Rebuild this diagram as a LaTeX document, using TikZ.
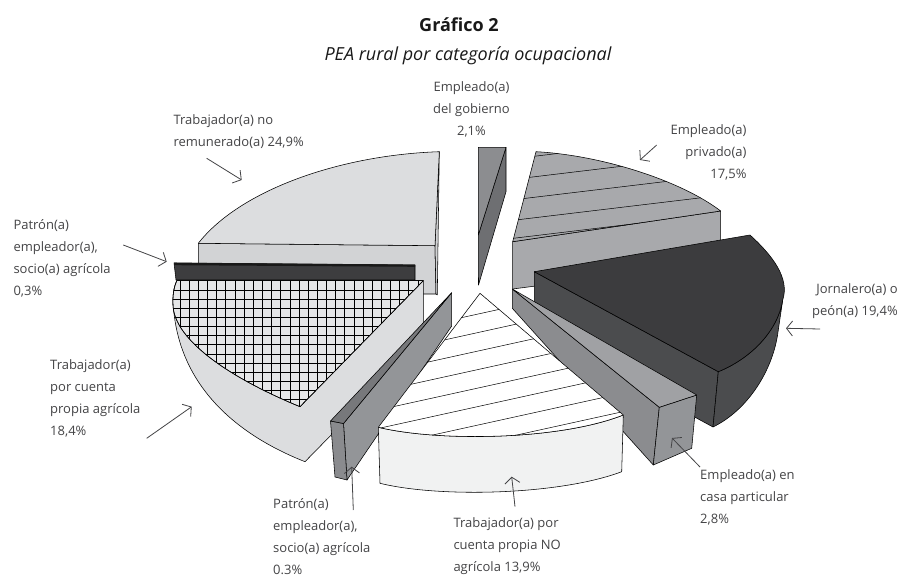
\documentclass[tikz,border=0pt]{standalone}
\usepackage{fontspec}
\setmainfont{Open Sans}
\usetikzlibrary{arrows.meta}
\definecolor{nrTop}{HTML}{DCDDDF}
\definecolor{nrSide}{HTML}{D2D3D5}
\definecolor{pvFill}{HTML}{A8A9AC}
\definecolor{gvL}{HTML}{8C8D90}
\definecolor{gvR}{HTML}{6E6F72}
\definecolor{jnTop}{HTML}{3C3C3E}
\definecolor{jnSide}{HTML}{4B4C4E}
\definecolor{csTop}{HTML}{A0A1A4}
\definecolor{csSide}{HTML}{8B8C8F}
\definecolor{csEnd}{HTML}{939598}
\definecolor{tbFill}{HTML}{3D3D3F}
\definecolor{agTop}{HTML}{E6E7E8}
\definecolor{agSide}{HTML}{DCDDDF}
\definecolor{bbTop}{HTML}{77787B}
\definecolor{bbFront}{HTML}{939598}
\definecolor{bbEnd}{HTML}{8A8B8E}
\definecolor{naFront}{HTML}{F1F2F2}
\definecolor{txt}{HTML}{444446}
\begin{document}
\begin{tikzpicture}[x=1pt,y=-1pt,
  edge/.style={draw=black,line width=0.55pt,line join=round},
  hatch/.style={draw=black,line width=0.5pt},
  gridline/.style={draw=black,line width=0.6pt},
  lbl/.style={font=\fontsize{13}{22}\selectfont,text=txt,inner sep=0pt},
  pointer/.style={draw=txt,line width=0.8pt,-{Straight Barb[length=6pt,width=15pt,line width=0.8pt]}}]
\fill[white] (0,0) rectangle (919,578);
\useasboundingbox (0,0) rectangle (919,578);

% titles
\node[font=\fontsize{18}{20}\selectfont\bfseries,text=black!90,inner sep=0pt] (title) at (459,25) {Gráfico 2};
\node[font=\fontsize{18}{20}\selectfont\itshape,text=black!90,inner sep=0pt] (subtitle) at (468,56) {PEA rural por categoría ocupacional};

% Trabajador(a) no remunerado(a)
\path[edge,fill=nrSide] (198.3,243.3) -- (435,245.7) -- (436,294) -- (198.3,294) -- cycle;
\path[edge,fill=nrSide] (439.3,151.7) -- (437.3,295) -- (436,294) -- (435,245.7) -- cycle;
\path[edge,fill=nrTop] (439.3,151.7) .. controls (340,155) and (240,190) .. (198.3,243.3) -- (435,245.7) -- cycle;

% Empleado(a) privado(a)
\path[edge,fill=pvFill] (512.7,241.7) -- (720.7,211) -- (720.7,262) -- (512.7,289) -- cycle;
\path[edge,fill=pvFill] (536,151.7) .. controls (600,155) and (680,180) .. (720.7,211) -- (512.7,241.7) -- cycle;
\begin{scope}
\clip (536,151.7) .. controls (600,155) and (680,180) .. (720.7,211) -- (512.7,241.7) -- cycle;
\foreach \c in {158,178.5,199,219.5,237.5}
  \draw[hatch] (500,{\c+0.12*20}) -- (730,{\c-0.12*210});
\end{scope}

% Empleado(a) del gobierno
\path[edge,fill=gvR] (506,147.3) -- (506,191.7) -- (478.5,285) -- (478.3,235) -- cycle;
\path[edge,fill=gvL] (478.3,147.3) -- (506,147.3) -- (478.3,235) -- cycle;

% Jornalero(a) o peon(a)
\path[edge,fill=jnSide] (534.3,271.7) -- (718.3,371.7) -- (713,427) -- (534.3,330) -- cycle;
\path[edge,fill=jnSide] (782.7,300) .. controls (778,330) and (752,358) .. (718.3,371.7) -- (713,427) .. controls (748,410) and (773,370) .. (778,332) -- cycle;
\path[edge,fill=jnTop] (534.3,271.7) -- (750,235) .. controls (772,255) and (790,278) .. (782.7,300) .. controls (778,330) and (752,358) .. (718.3,371.7) -- cycle;

% Empleado(a) en casa particular
\path[edge,fill=csSide] (512.3,289) -- (659.3,407.3) -- (653.3,465) -- (512.3,308.3) -- cycle;
\path[edge,fill=csEnd] (659.3,407.3) -- (696.7,395) -- (691.7,448.3) -- (653.3,465) -- cycle;
\path[edge,fill=csTop] (512.3,289) -- (696.7,395) -- (659.3,407.3) -- cycle;

% Patron (top bar)
\path[edge,fill=tbFill] (174,263) -- (415,265) -- (415,280) -- (176,280) -- cycle;
\fill[black!90] (174,262.6) -- (415,264.6) -- (415,266.8) -- (174.3,265.2) -- cycle;

% Trabajador(a) por cuenta propia agricola
\path[edge,fill=agSide] (176.7,280.7) -- (423.3,280.7) -- (423.3,341) -- (305,461.7) .. controls (230,432) and (176,380) .. (173,300) .. controls (173,292) and (174.5,286) .. (176.7,280.7) -- cycle;
\path[edge,fill=agTop] (176.7,280.7) -- (423.3,280.7) -- (300,406.7) .. controls (230,378) and (174,340) .. (173,305) .. controls (172.5,295) and (174,287) .. (176.7,280.7) -- cycle;
\begin{scope}
\clip (176.7,280.7) -- (423.3,280.7) -- (300,406.7) .. controls (230,378) and (174,340) .. (173,305) .. controls (172.5,295) and (174,287) .. (176.7,280.7) -- cycle;
\foreach \x in {180,189.15,...,425} \draw[gridline] (\x,275) -- (\x,415);
\foreach \y in {280.7,289.85,...,410} \draw[gridline] (165,\y) -- (430,\y);
\end{scope}
\path[edge] (176.7,280.7) -- (423.3,280.7) -- (300,406.7) .. controls (230,378) and (174,340) .. (173,305) .. controls (172.5,295) and (174,287) .. (176.7,280.7) -- cycle;

% Patron (bottom bar)
\path[edge,fill=bbFront] (343.5,423.5) -- (451.7,292.7) -- (451.7,326) -- (347,480) -- cycle;
\path[edge,fill=bbEnd] (330.5,421) -- (343.5,423.5) -- (347,480) -- (335,477) -- cycle;
\path[edge,fill=bbTop] (330.5,421) -- (343.5,423.5) -- (451.7,292.7) -- cycle;

% Trabajador(a) por cuenta propia NO agricola
\path[edge,fill=naFront] (378.3,427.3) .. controls (440,442) and (560,440) .. (623.3,415) -- (621.7,471.7) .. controls (560,495) and (440,498) .. (380,483.3) -- cycle;
\path[edge,fill=white] (480,293.3) -- (623.3,415) .. controls (560,440) and (440,442) .. (378.3,427.3) -- cycle;
\begin{scope}
\clip (480,293.3) -- (623.3,415) .. controls (560,440) and (440,442) .. (378.3,427.3) -- cycle;
\foreach \c in {313.6,332.1,...,445} \draw[hatch] (370,{\c+0.22*110}) -- (630,{\c-0.22*150});
\end{scope}

% labels
\node[lbl,align=center,anchor=north] (lgob) at (471.5,81) {Empleado(a)\\del gobierno\\2,1\%};
\node[lbl,align=right,anchor=north east] (lpv) at (746.7,124) {Empleado(a)\\privado(a)\\17,5\%};
\node[lbl,align=right,anchor=north east] (ljn) at (898,283) {Jornalero(a) o\\peón(a) 19,4\%};
\node[lbl,align=left,anchor=north west] (lcs) at (700,469) {Empleado(a) en\\casa particular\\2,8\%};
\node[lbl,align=left,anchor=north west] (lna) at (453.3,517) {Trabajador(a) por\\cuenta propia NO\\agrícola 13,9\%};
\node[lbl,align=left,anchor=north west] (lbb) at (273,498) {Patrón(a)\\empleador(a),\\socio(a) agrícola\\0.3\%};
\node[lbl,align=left,anchor=north west] (lag) at (50,359) {Trabajador(a)\\por cuenta\\propia agrícola\\18,4\%};
\node[lbl,align=left,anchor=north west] (ltb) at (13.3,219) {Patrón(a)\\empleador(a),\\socio(a) agrícola\\0,3\%};
\node[lbl,align=left,anchor=north west] (lnr) at (173.3,114) {Trabajador(a) no\\remunerado(a) 24,9\%};

% pointers
\coordinate (a1s) at (206.7,158.3); \coordinate (a1e) at (241.7,180);
\coordinate (a2s) at (123.3,245);   \coordinate (a2e) at (166.7,261.7);
\coordinate (a3s) at (146.7,438.3); \coordinate (a3e) at (191.7,406.7);
\coordinate (a4s) at (353.3,510);   \coordinate (a4e) at (351.7,466.7);
\coordinate (a5s) at (515,506.7);   \coordinate (a5e) at (511.7,476.7);
\coordinate (a6s) at (700,467);     \coordinate (a6e) at (672,438);
\coordinate (a7s) at (820,329);     \coordinate (a7e) at (786,328.3);
\coordinate (a8s) at (656.7,145);   \coordinate (a8e) at (640,160);
\foreach \i in {1,...,8} \draw[pointer] (a\i s) -- (a\i e);
\end{tikzpicture}
\end{document}
